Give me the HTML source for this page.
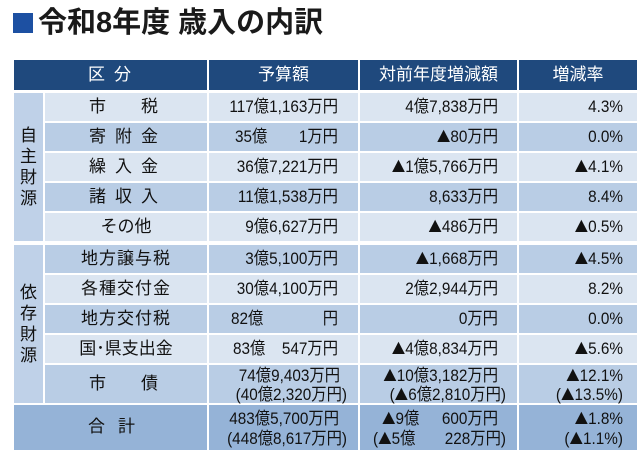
<!DOCTYPE html>
<html><head><meta charset="utf-8">
<style>
*{margin:0;padding:0;box-sizing:border-box}
body{width:640px;height:455px;background:#fff;position:relative;overflow:hidden;font-family:"Liberation Sans","Noto Sans CJK JP",sans-serif;color:#111}
.b{position:absolute}
.hd{background:#1f497d}
.lt{background:#dbe5f1}
.md{background:#b9cde5}
.gp{background:#bfd1e8}
.tt{background:#95b3d7}
.t{position:absolute;font-size:17px;line-height:20px;white-space:nowrap}
.w{color:#fff}
.c{text-align:center}
.rr{text-align:right;left:0;transform:scaleX(.9);transform-origin:right center}
.ll{transform:scaleX(.9);transform-origin:left center}
.sp{display:flex;justify-content:space-between}
.v{position:absolute;left:14px;width:29px;text-align:center;font-size:17px;line-height:21px}
i{font-style:normal;font-family:"Noto Sans CJK JP",sans-serif;font-size:15px}
</style></head><body>
<div class="b" style="left:13px;top:13px;width:20px;height:20px;background:#1d50a2"></div>
<div class="t" style="left:38px;top:9px;font-size:29px;line-height:28px;font-weight:bold;color:#1a1a1a">令和8年度 歳入の内訳</div>

<!-- header -->
<div class="b hd" style="left:14px;top:60px;width:193px;height:30px"></div>
<div class="b hd" style="left:209px;top:60px;width:149px;height:30px"></div>
<div class="b hd" style="left:360px;top:60px;width:157px;height:30px"></div>
<div class="b hd" style="left:519px;top:60px;width:118px;height:30px"></div>
<div class="t w" style="left:88px;top:65px">区</div>
<div class="t w" style="left:114px;top:65px">分</div>
<div class="t w c" style="left:209px;width:149px;top:65px">予算額</div>
<div class="t w c" style="left:360px;width:157px;top:65px">対前年度増減額</div>
<div class="t w c" style="left:519px;width:118px;top:65px">増減率</div>

<!-- group cells -->
<div class="b gp" style="left:14px;top:93px;width:29px;height:148px"></div>
<div class="b gp" style="left:14px;top:245px;width:29px;height:158px"></div>
<div class="v" style="top:125px">自</div>
<div class="v" style="top:146px">主</div>
<div class="v" style="top:167px">財</div>
<div class="v" style="top:188px">源</div>
<div class="v" style="top:282px">依</div>
<div class="v" style="top:303px">存</div>
<div class="v" style="top:324px">財</div>
<div class="v" style="top:345px">源</div>

<!-- rows backgrounds -->
<div class="b lt" style="left:45px;top:93px;width:162px;height:28px"></div><div class="b lt" style="left:209px;top:93px;width:149px;height:28px"></div><div class="b lt" style="left:360px;top:93px;width:157px;height:28px"></div><div class="b lt" style="left:519px;top:93px;width:118px;height:28px"></div>
<div class="b md" style="left:45px;top:123px;width:162px;height:28px"></div><div class="b md" style="left:209px;top:123px;width:149px;height:28px"></div><div class="b md" style="left:360px;top:123px;width:157px;height:28px"></div><div class="b md" style="left:519px;top:123px;width:118px;height:28px"></div>
<div class="b lt" style="left:45px;top:153px;width:162px;height:28px"></div><div class="b lt" style="left:209px;top:153px;width:149px;height:28px"></div><div class="b lt" style="left:360px;top:153px;width:157px;height:28px"></div><div class="b lt" style="left:519px;top:153px;width:118px;height:28px"></div>
<div class="b md" style="left:45px;top:183px;width:162px;height:28px"></div><div class="b md" style="left:209px;top:183px;width:149px;height:28px"></div><div class="b md" style="left:360px;top:183px;width:157px;height:28px"></div><div class="b md" style="left:519px;top:183px;width:118px;height:28px"></div>
<div class="b lt" style="left:45px;top:213px;width:162px;height:28px"></div><div class="b lt" style="left:209px;top:213px;width:149px;height:28px"></div><div class="b lt" style="left:360px;top:213px;width:157px;height:28px"></div><div class="b lt" style="left:519px;top:213px;width:118px;height:28px"></div>
<div class="b md" style="left:45px;top:245px;width:162px;height:28px"></div><div class="b md" style="left:209px;top:245px;width:149px;height:28px"></div><div class="b md" style="left:360px;top:245px;width:157px;height:28px"></div><div class="b md" style="left:519px;top:245px;width:118px;height:28px"></div>
<div class="b lt" style="left:45px;top:275px;width:162px;height:28px"></div><div class="b lt" style="left:209px;top:275px;width:149px;height:28px"></div><div class="b lt" style="left:360px;top:275px;width:157px;height:28px"></div><div class="b lt" style="left:519px;top:275px;width:118px;height:28px"></div>
<div class="b md" style="left:45px;top:305px;width:162px;height:28px"></div><div class="b md" style="left:209px;top:305px;width:149px;height:28px"></div><div class="b md" style="left:360px;top:305px;width:157px;height:28px"></div><div class="b md" style="left:519px;top:305px;width:118px;height:28px"></div>
<div class="b lt" style="left:45px;top:335px;width:162px;height:28px"></div><div class="b lt" style="left:209px;top:335px;width:149px;height:28px"></div><div class="b lt" style="left:360px;top:335px;width:157px;height:28px"></div><div class="b lt" style="left:519px;top:335px;width:118px;height:28px"></div>
<div class="b md" style="left:45px;top:365px;width:162px;height:38px"></div><div class="b md" style="left:209px;top:365px;width:149px;height:38px"></div><div class="b md" style="left:360px;top:365px;width:157px;height:38px"></div><div class="b md" style="left:519px;top:365px;width:118px;height:38px"></div>
<div class="b tt" style="left:14px;top:405px;width:193px;height:45px"></div><div class="b tt" style="left:209px;top:405px;width:149px;height:45px"></div><div class="b tt" style="left:360px;top:405px;width:157px;height:45px"></div><div class="b tt" style="left:519px;top:405px;width:118px;height:45px"></div>

<!-- labels -->
<div class="t sp" style="left:89px;width:69px;top:97px"><span>市</span><span>税</span></div>
<div class="t sp" style="left:89px;width:69px;top:127px"><span>寄</span><span>附</span><span>金</span></div>
<div class="t sp" style="left:89px;width:69px;top:157px"><span>繰</span><span>入</span><span>金</span></div>
<div class="t sp" style="left:89px;width:69px;top:187px"><span>諸</span><span>収</span><span>入</span></div>
<div class="t c" style="left:45px;width:162px;top:217px">その他</div>
<div class="t c" style="left:45px;width:162px;top:249px;letter-spacing:1px">地方譲与税</div>
<div class="t c" style="left:45px;width:162px;top:279px;letter-spacing:1px">各種交付金</div>
<div class="t c" style="left:45px;width:162px;top:309px;letter-spacing:1px">地方交付税</div>
<div class="t c" style="left:45px;width:162px;top:339px">国･県支出金</div>
<div class="t sp" style="left:89px;width:69px;top:374px"><span>市</span><span>債</span></div>
<div class="t" style="left:88px;top:417px">合</div>
<div class="t" style="left:118px;top:417px">計</div>

<!-- col3 -->
<div class="t rr" style="width:338px;top:97px">117億1,163万円</div>
<div class="t ll" style="left:235px;top:127px">35億</div><div class="t rr" style="width:338px;top:127px">1万円</div>
<div class="t rr" style="width:338px;top:157px">36億7,221万円</div>
<div class="t rr" style="width:338px;top:187px">11億1,538万円</div>
<div class="t rr" style="width:338px;top:217px">9億6,627万円</div>
<div class="t rr" style="width:338px;top:249px">3億5,100万円</div>
<div class="t rr" style="width:338px;top:279px">30億4,100万円</div>
<div class="t ll" style="left:231px;top:309px">82億</div><div class="t rr" style="width:338px;top:309px">円</div>
<div class="t ll" style="left:233px;top:339px">83億</div><div class="t rr" style="width:338px;top:339px">547万円</div>
<div class="t rr" style="width:340px;top:366px">74億9,403万円</div>
<div class="t rr" style="width:347px;top:385px">(40億2,320万円)</div>
<div class="t rr" style="width:339px;top:409px">483億5,700万円</div>
<div class="t rr" style="width:347px;top:429px">(448億8,617万円)</div>

<!-- col4 -->
<div class="t rr" style="width:498px;top:97px">4億7,838万円</div>
<div class="t rr" style="width:498px;top:127px"><i>▲</i>80万円</div>
<div class="t rr" style="width:498px;top:157px"><i>▲</i>1億5,766万円</div>
<div class="t rr" style="width:498px;top:187px">8,633万円</div>
<div class="t rr" style="width:498px;top:217px"><i>▲</i>486万円</div>
<div class="t rr" style="width:498px;top:249px"><i>▲</i>1,668万円</div>
<div class="t rr" style="width:498px;top:279px">2億2,944万円</div>
<div class="t rr" style="width:498px;top:309px">0万円</div>
<div class="t rr" style="width:498px;top:339px"><i>▲</i>4億8,834万円</div>
<div class="t rr" style="width:498px;top:366px"><i>▲</i>10億3,182万円</div>
<div class="t rr" style="width:506px;top:385px">(<i>▲</i>6億2,810万円)</div>
<div class="t ll" style="left:382px;top:409px"><i>▲</i>9億</div><div class="t rr" style="width:498px;top:409px">600万円</div>
<div class="t ll" style="left:373px;top:429px">(<i>▲</i>5億</div><div class="t rr" style="width:506px;top:429px">228万円)</div>

<!-- col5 -->
<div class="t rr" style="width:623px;top:97px">4.3%</div>
<div class="t rr" style="width:623px;top:127px">0.0%</div>
<div class="t rr" style="width:623px;top:157px"><i>▲</i>4.1%</div>
<div class="t rr" style="width:623px;top:187px">8.4%</div>
<div class="t rr" style="width:623px;top:217px"><i>▲</i>0.5%</div>
<div class="t rr" style="width:623px;top:249px"><i>▲</i>4.5%</div>
<div class="t rr" style="width:623px;top:279px">8.2%</div>
<div class="t rr" style="width:623px;top:309px">0.0%</div>
<div class="t rr" style="width:623px;top:339px"><i>▲</i>5.6%</div>
<div class="t rr" style="width:623px;top:366px"><i>▲</i>12.1%</div>
<div class="t rr" style="width:623px;top:385px">(<i>▲</i>13.5%)</div>
<div class="t rr" style="width:623px;top:409px"><i>▲</i>1.8%</div>
<div class="t rr" style="width:623px;top:429px">(<i>▲</i>1.1%)</div>
</body></html>
